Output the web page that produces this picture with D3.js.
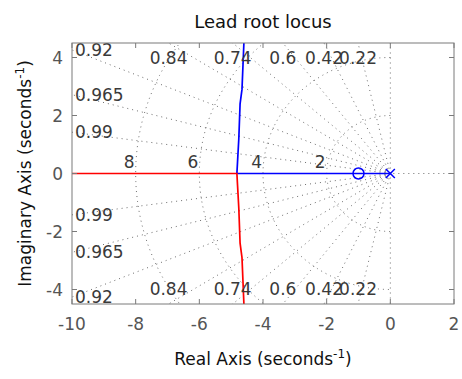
<!DOCTYPE html>
<html>
<head>
<meta charset="utf-8">
<script src="https://cdn.jsdelivr.net/npm/d3@7"></script>
<style>
  body { margin: 0; background: #fff; }
  svg { display: block; font-family: "DejaVu Sans", sans-serif; }
  .grid { fill: none; stroke: #6e6e6e; stroke-width: 1; stroke-dasharray: 1,4; }
  .glabel { font-size: 17px; fill: #3a3a3a; }
  .tick-label { font-size: 17px; fill: #555; }
</style>
</head>
<body>
<svg id="chart" width="462" height="379"></svg>
<script>
// grid values (sgrid)
var dampings = [0.22, 0.42, 0.6, 0.74, 0.84, 0.92, 0.965, 0.99];
var natFreqs = [2, 4, 6, 8];

// axis ticks
var xTicks = [-10, -8, -6, -4, -2, 0, 2];
var yTicks = [-4, -2, 0, 2, 4];

// root locus, upper branch after the break-away point (mirrored below)
var branchRe = [-4.82, -4.80, -4.76, -4.72, -4.66, -4.60];
var branchIm = [0, 0.4, 1.2, 2.4, 2.9, 4.5];

// open loop poles / zeros
var poles = [0];
var zeros = [-1];

var margin = {top: 43, right: 8, bottom: 75, left: 72},
    width = 462 - margin.left - margin.right,
    height = 379 - margin.top - margin.bottom;

var svg = d3.select("#chart");

var x = d3.scaleLinear().domain([-10, 2]).range([0, width]),
    y = d3.scaleLinear().domain([-4.5, 4.5]).range([height, 0]);

var g = svg.append("g")
    .attr("transform", "translate(" + margin.left + "," + margin.top + ")");

svg.append("defs").append("clipPath").attr("id", "clip")
  .append("rect").attr("width", width).attr("height", height);

var plot = g.append("g").attr("clip-path", "url(#clip)");

var line = d3.line()
    .x(function(d) { return x(d[0]); })
    .y(function(d) { return y(d[1]); });

// damping lines
dampings.forEach(function(z) {
  var s = Math.sqrt(1 - z * z), r = 15;
  [1, -1].forEach(function(sign) {
    plot.append("path").attr("class", "grid")
      .attr("d", line([[0, 0], [-r * z, sign * r * s]]));
  });
});
// zeta = 0 and the real axis
plot.append("path").attr("class", "grid").attr("d", line([[0, -5], [0, 5]]));
plot.append("path").attr("class", "grid").attr("d", line([[-12, 0], [3, 0]]));

// natural frequency half circles
natFreqs.forEach(function(wn) {
  var pts = d3.range(90, 270.5, 1).map(function(a) {
    var t = a * Math.PI / 180;
    return [wn * Math.cos(t), wn * Math.sin(t)];
  });
  plot.append("path").attr("class", "grid").attr("d", line(pts));
});

// root locus branches
var upper = branchRe.map(function(d, i) { return [d, branchIm[i]]; });
var lower = branchRe.map(function(d, i) { return [d, -branchIm[i]]; });

plot.append("path")
    .attr("d", line([[poles[0], 0]].concat(upper)))
    .attr("fill", "none").attr("stroke", "#0000ff").attr("stroke-width", 1.7);

plot.append("path")
    .attr("d", line([[-12, 0]].concat(lower)))
    .attr("fill", "none").attr("stroke", "#ff0000").attr("stroke-width", 1.7);

// markers
poles.forEach(function(p) {
  var cx = x(p), cy = y(0), k = 4.5;
  g.append("path")
    .attr("d", "M" + (cx - k) + "," + (cy - k) + "L" + (cx + k) + "," + (cy + k) +
               "M" + (cx - k) + "," + (cy + k) + "L" + (cx + k) + "," + (cy - k))
    .attr("stroke", "#0000ff").attr("stroke-width", 1.5);
});
zeros.forEach(function(zr) {
  g.append("circle")
    .attr("cx", x(zr)).attr("cy", y(0)).attr("r", 5.5)
    .attr("fill", "none").attr("stroke", "#0000ff").attr("stroke-width", 1.5);
});

// damping labels, where each damping line leaves the box
dampings.forEach(function(z) {
  var s = Math.sqrt(1 - z * z) / z;
  [1, -1].forEach(function(sign) {
    if (s * 10 > 4.5) {
      g.append("text").attr("class", "glabel")
        .attr("x", x(-4.5 / s)).attr("y", sign > 0 ? y(4.5) + 15 : y(-4.5) - 15)
        .attr("dy", "0.36em").attr("text-anchor", "middle")
        .text(z);
    } else {
      g.append("text").attr("class", "glabel")
        .attr("x", x(-10) + 3).attr("y", y(sign * s * 10))
        .attr("dy", "0.36em").attr("text-anchor", "start")
        .text(z);
    }
  });
});

// natural frequency labels
natFreqs.forEach(function(wn) {
  g.append("text").attr("class", "glabel")
    .attr("x", x(-wn) - 1).attr("y", y(0) - 6)
    .attr("text-anchor", "end")
    .text(wn);
});

// box
g.append("rect").attr("width", width).attr("height", height)
  .attr("fill", "none").attr("stroke", "#7a7a7a").attr("stroke-width", 1);

// inward ticks on all sides
var tickLen = 5;
xTicks.forEach(function(t) {
  g.append("line").attr("x1", x(t)).attr("x2", x(t)).attr("y1", height).attr("y2", height - tickLen)
    .attr("stroke", "#7a7a7a");
  g.append("line").attr("x1", x(t)).attr("x2", x(t)).attr("y1", 0).attr("y2", tickLen)
    .attr("stroke", "#7a7a7a");
  g.append("text").attr("class", "tick-label")
    .attr("x", x(t)).attr("y", height + 26)
    .attr("text-anchor", "middle").text(t);
});
yTicks.forEach(function(t) {
  g.append("line").attr("x1", 0).attr("x2", tickLen).attr("y1", y(t)).attr("y2", y(t))
    .attr("stroke", "#7a7a7a");
  g.append("line").attr("x1", width).attr("x2", width - tickLen).attr("y1", y(t)).attr("y2", y(t))
    .attr("stroke", "#7a7a7a");
  g.append("text").attr("class", "tick-label")
    .attr("x", -9).attr("y", y(t)).attr("dy", "0.36em")
    .attr("text-anchor", "end").text(t);
});

// title and axis labels
svg.append("text")
  .attr("x", margin.left + width / 2).attr("y", 28)
  .attr("text-anchor", "middle").style("font-size", "18px").attr("fill", "#111")
  .text("Lead root locus");

var xl = svg.append("text")
  .attr("x", margin.left + width / 2).attr("y", 365)
  .attr("text-anchor", "middle").style("font-size", "17px").attr("fill", "#111");
xl.append("tspan").text("Real Axis (seconds");
xl.append("tspan").attr("dy", -7).style("font-size", "12px").text("-1");
xl.append("tspan").attr("dy", 7).text(")");

var yl = svg.append("text")
  .attr("transform", "translate(31," + (margin.top + height / 2) + ") rotate(-90)")
  .attr("text-anchor", "middle").style("font-size", "17px").attr("fill", "#111");
yl.append("tspan").text("Imaginary Axis (seconds");
yl.append("tspan").attr("dy", -7).style("font-size", "12px").text("-1");
yl.append("tspan").attr("dy", 7).text(")");
</script>
</body>
</html>
